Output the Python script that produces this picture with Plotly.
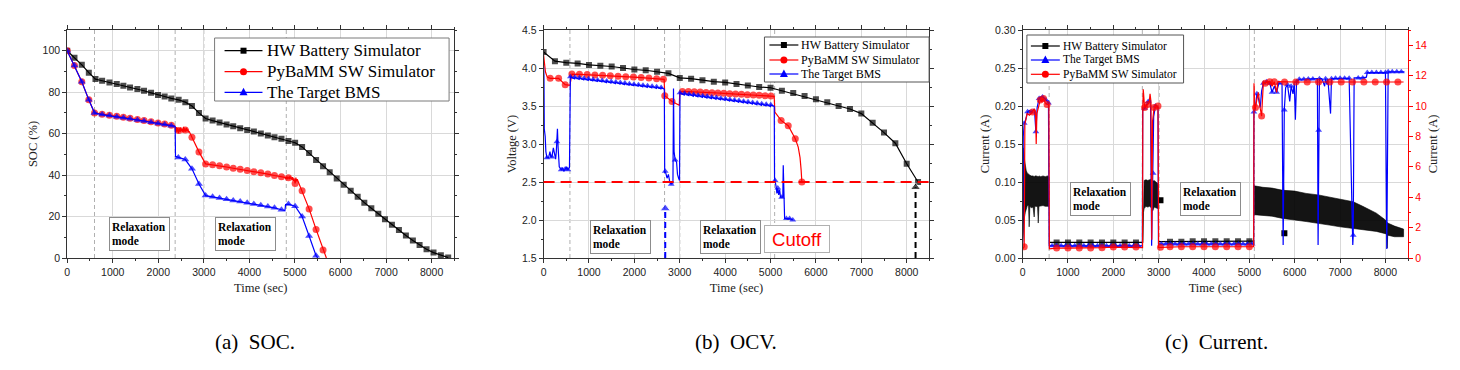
import plotly.graph_objects as go

# ================= DATA =================
# ---- (a) SOC (%) ----
A_HW_T = [0, 160, 321, 475, 621, 767, 928, 1088, 1234, 1380, 1541, 1687, 1841, 1994, 2140,
          2286, 2447, 2593, 2739, 2893, 3039, 3192, 3345, 3499, 3645, 3798, 3952, 4098, 4251, 4405,
          4551, 4704, 4858, 5004, 5157, 5311, 5464, 5617, 5763, 5917, 6070, 6224, 6377, 6523, 6677,
          6830, 6976, 7129, 7283, 7436, 7589, 7736, 7889, 8042, 8203, 8364]
A_HW_SOC = [100, 96.6, 93.2, 89.4, 86.3, 85.5, 84.7, 83.9, 83.1, 82.3, 81.5, 80.7, 79.7, 78.6, 77.9,
            77.0, 76.3, 75.2, 73.3, 70.0, 67.3, 66.3, 65.4, 64.4, 63.6, 62.6, 61.8, 61.0, 60.1, 59.1,
            58.3, 57.5, 56.5, 55.6, 53.6, 50.6, 47.3, 44.3, 41.4, 38.3, 35.4, 32.5, 29.6, 26.7, 24.0,
            21.3, 18.7, 16.1, 13.5, 10.9, 8.5, 6.3, 4.2, 2.6, 1.3, 0.2]

A_PY_T = [0, 160, 321, 475, 600, 767, 928, 1088, 1234, 1380, 1541, 1687, 1841, 1994, 2140,
          2286, 2450, 2593, 2739, 2893, 3039, 3192, 3345, 3499, 3645, 3798, 3952, 4098, 4251, 4405,
          4551, 4704, 4858, 5004, 5157, 5311, 5464, 5617]
A_PY_SOC = [100, 92.9, 85.0, 76.3, 70.0, 69.4, 68.9, 68.4, 67.9, 67.4, 66.8, 66.3, 65.7, 65.1, 64.6,
            64.0, 61.5, 61.8, 58.3, 51.2, 45.4, 45.0, 44.5, 43.9, 43.3, 42.8, 42.2, 41.6, 41.1, 40.5,
            39.8, 39.2, 38.7, 36.0, 32.5, 23.7, 13.8, 3.9]
A_PY_DET_T = [2365, 2380, 2395, 2410, 2425, 2440, 2465, 2480, 2495, 2510, 2525, 2540, 2555, 2570,
              2585, 2605, 2620, 2635, 2650, 2665, 2680,
              4780, 4800, 4815, 4830, 4845, 4875, 4890, 4905, 4920, 4935, 4950, 4965, 4980, 4995,
              5020, 5035, 5050, 5690]
A_PY_DET_SOC = [63.7, 60.5, 63.2, 61.0, 62.8, 60.2, 62.6, 60.8, 63.0, 61.2, 62.2, 60.6, 63.3, 61.0,
                62.5, 60.9, 62.8, 61.3, 62.0, 60.8, 61.0,
                38.9, 38.2, 39.3, 38.0, 39.2, 38.0, 39.5, 38.3, 38.9, 37.6, 39.0, 37.2, 38.4, 36.8,
                38.8, 37.0, 38.0, 0.0]

A_BMS_T = [0, 160, 321, 475, 600, 767, 928, 1088, 1234, 1380, 1541, 1687, 1841, 1994, 2140,
           2286, 2440, 2593, 2739, 2893, 3039, 3192, 3345, 3499, 3645, 3798, 3952, 4098, 4251, 4405,
           4551, 4704, 4858, 5004, 5157, 5311, 5464]
A_BMS_SOC = [100, 92.9, 85.0, 76.3, 70.0, 69.2, 68.7, 68.2, 67.7, 67.2, 66.6, 66.1, 65.5, 64.9, 64.4,
             63.8, 48.5, 47.5, 43.0, 35.7, 30.1, 29.5, 29.0, 28.4, 27.8, 27.2, 26.6, 26.0, 25.4, 24.8,
             24.2, 23.3, 26.0, 25.0, 20.0, 10.6, 1.1]
A_BMS_DET_T = [2370, 2378, 4780, 4795, 5500]
A_BMS_DET_SOC = [63.5, 49.0, 22.9, 25.8, 0.0]

A_RELAX_LINES = [600, 2370, 3000, 4810]

# ---- (b) OCV (V) ----
B_HW_T = [0, 250, 500, 750, 1000, 1250, 1500, 1750, 2000, 2250, 2500, 2750, 3000, 3250, 3500, 3750,
          4000, 4250, 4500, 4750, 5000, 5250, 5500, 5750, 6000, 6250, 6500, 6750, 7000, 7250,
          7500, 7750, 8000, 8250]
B_HW_V = [4.21, 4.09, 4.07, 4.06, 4.04, 4.03, 4.02, 4.00, 3.98, 3.97, 3.95, 3.93, 3.87, 3.86, 3.84,
          3.82, 3.81, 3.79, 3.77, 3.75, 3.74, 3.70, 3.67, 3.63, 3.59, 3.55, 3.50, 3.46, 3.40, 3.28,
          3.15, 3.01, 2.74, 2.50]

B_PY_T = [145, 330, 476, 623, 790, 960, 1130, 1300, 1470, 1640, 1810, 1980, 2150, 2320, 2490, 2640,
          2670, 2830, 3060, 3190, 3320, 3450, 3580, 3710, 3840, 3970, 4100, 4230, 4360, 4490, 4620,
          4750, 4880, 5010, 5233, 5390, 5545, 5690]
B_PY_V = [3.864, 3.864, 3.78, 3.92, 3.917, 3.913, 3.908, 3.903, 3.898, 3.892, 3.886, 3.88, 3.874,
          3.867, 3.86, 3.852, 3.635, 3.56, 3.692, 3.69, 3.687, 3.683, 3.679, 3.675, 3.671, 3.667,
          3.662, 3.658, 3.653, 3.649, 3.644, 3.64, 3.635, 3.63, 3.31, 3.24, 3.07, 2.50]
B_PY_DET_T = [0, 15, 40, 80, 580, 2655, 2990, 3000, 5080, 5095, 5610, 5650, 5675]
B_PY_DET_V = [4.17, 4.05, 3.95, 3.88, 3.772, 3.85, 3.51, 3.68, 3.627, 3.42, 2.96, 2.82, 2.65]

B_BMS_T = [73, 183, 293, 388, 476, 535, 2680, 2811, 2899, 5100, 5160, 5245, 5350, 5420, 5490]
B_BMS_V = [2.82, 2.83, 3.03, 2.66, 2.67, 2.66, 2.64, 2.47, 2.79, 2.52, 2.42, 2.30, 2.02, 2.02, 2.00]
B_BMS_DET_T = [0, 8, 15, 35, 50, 110, 140, 160, 215, 240, 265, 280, 305, 320, 345, 420, 445, 505, 570,
               2660, 2668, 2700, 2720, 2750, 2780, 2830, 2850, 2862, 2875, 2930, 2950, 2975, 2995,
               5088, 5120, 5140, 5180, 5200, 5220, 5270, 5280, 5292, 5310]
B_BMS_DET_V = [4.02, 3.9, 3.2, 3.1, 2.9, 2.82, 2.9, 2.83, 2.95, 2.85, 2.8, 2.9, 3.2, 2.95, 2.7, 2.69,
               2.64, 2.7, 2.69,
               3.72, 2.62, 2.6, 2.55, 2.6, 2.5, 2.5, 2.48, 3.73, 2.9, 2.76, 2.6, 2.55, 2.52,
               2.55, 2.45, 2.35, 2.33, 2.4, 2.3, 2.3, 2.72, 2.3, 2.02]
# sawtooth teeth of the BMS OCV estimate during relaxation
B_SAW1_T = [590, 690, 790, 890, 990, 1090, 1190, 1290, 1390, 1490, 1590, 1690, 1790, 1890, 1990,
            2090, 2190, 2290, 2390, 2490, 2590]
B_SAW1_TOP = [3.885, 3.878, 3.871, 3.864, 3.857, 3.850, 3.843, 3.836, 3.829, 3.822, 3.815, 3.808,
              3.801, 3.794, 3.787, 3.780, 3.773, 3.766, 3.759, 3.752, 3.745]
B_SAW1_LOW = [3.858, 3.851, 3.844, 3.837, 3.830, 3.823, 3.816, 3.809, 3.802, 3.795, 3.788, 3.781,
              3.774, 3.767, 3.760, 3.753, 3.746, 3.739, 3.732, 3.725, 3.722]
B_SAW1_END = 2655
B_SAW2_T = [3005, 3105, 3205, 3305, 3405, 3505, 3605, 3705, 3805, 3905, 4005, 4105, 4205, 4305,
            4405, 4505, 4605, 4705, 4805, 4905, 5005]
B_SAW2_TOP = [3.675, 3.667, 3.659, 3.651, 3.643, 3.635, 3.627, 3.619, 3.611, 3.603, 3.595, 3.587,
              3.579, 3.571, 3.563, 3.555, 3.547, 3.539, 3.531, 3.523, 3.515]
B_SAW2_LOW = [3.645, 3.637, 3.629, 3.621, 3.613, 3.605, 3.597, 3.589, 3.581, 3.573, 3.565, 3.557,
              3.549, 3.541, 3.533, 3.525, 3.517, 3.509, 3.501, 3.493, 3.495]
B_SAW2_END = 5082
B_CUTOFF_V = 2.5
B_ARROW_T = [2680, 8195]
B_ARROW_TOP = [2.15, 2.43]
B_RELAX_LINES = [580, 2665, 3000, 5090]

# ---- (c) Current (A) ----
# HW simulator (left axis) - dense noisy bands given by upper / lower envelopes
C_HW_BAND1_T = [5, 15, 30, 45, 60, 80, 100, 130, 145, 160, 190, 230, 255, 270, 300, 330, 345, 360,
                400, 450, 500, 550, 582]
C_HW_BAND1_UP = [0.06, 0.145, 0.14, 0.128, 0.12, 0.115, 0.112, 0.11, 0.11, 0.109, 0.108, 0.108,
                 0.107, 0.108, 0.108, 0.107, 0.107, 0.108, 0.107, 0.108, 0.107, 0.108, 0.107]
C_HW_BAND1_LO = [0.02, 0.03, 0.05, 0.055, 0.06, 0.065, 0.068, 0.07, 0.041, 0.068, 0.066, 0.067,
                 0.054, 0.068, 0.068, 0.067, 0.046, 0.068, 0.068, 0.069, 0.068, 0.068, 0.068]
C_HW_BAND2_T = [2650, 2665, 2680, 2720, 2760, 2800, 2840, 2870, 2900, 2940, 2980, 3000]
C_HW_BAND2_UP = [0.02, 0.09, 0.102, 0.103, 0.102, 0.103, 0.104, 0.101, 0.102, 0.1, 0.098, 0.09]
C_HW_BAND2_LO = [0.02, 0.06, 0.065, 0.068, 0.067, 0.068, 0.066, 0.062, 0.067, 0.066, 0.065, 0.065]
C_HW_BAND3_T = [5105, 5300, 5500, 5740, 5750, 5760, 6000, 6250, 6520, 6800, 7000, 7290, 7500, 7800,
                8000, 8030, 8040, 8050, 8200, 8400]
C_HW_BAND3_UP = [0.095, 0.093, 0.092, 0.089, 0.104, 0.089, 0.088, 0.085, 0.083, 0.08, 0.078, 0.074,
                 0.068, 0.059, 0.05, 0.048, 0.047, 0.046, 0.042, 0.038]
C_HW_BAND3_LO = [0.057, 0.056, 0.055, 0.052, 0.052, 0.052, 0.05, 0.048, 0.046, 0.043, 0.041, 0.039,
                 0.037, 0.035, 0.032, 0.031, 0.013, 0.03, 0.028, 0.028]
C_HW_R1_T = [750, 1000, 1250, 1500, 1750, 2000, 2250, 2500]
C_HW_R1_I = [0.0205, 0.0205, 0.0205, 0.0205, 0.0205, 0.0205, 0.0205, 0.0205]
C_HW_R1_DET_T = [585, 2645]
C_HW_R1_DET_I = [0.0205, 0.0205]
C_HW_R2_T = [3250, 3500, 3750, 4000, 4250, 4500, 4750, 5000]
C_HW_R2_I = [0.0215, 0.0215, 0.022, 0.022, 0.022, 0.0222, 0.0222, 0.0222]
C_HW_R2_DET_T = [3005, 5102]
C_HW_R2_DET_I = [0.0215, 0.0222]
C_HW_EXTRA_T = [3040, 5772]
C_HW_EXTRA_I = [0.076, 0.0325]

# Target BMS (right axis)
C_BMS_T = [35, 110, 190, 293, 365, 440, 515, 570,
           650, 750, 850, 950, 1050, 1150, 1250, 1350, 1450, 1550, 1650, 1750, 1850, 1950, 2050,
           2150, 2250, 2350, 2450, 2550,
           2690, 2770, 2877, 2930,
           3060, 3160, 3260, 3360, 3460, 3560, 3660, 3760, 3860, 3960, 4060, 4160, 4260, 4360, 4460,
           4560, 4660, 4760, 4860, 4960, 5060,
           5100, 5165, 5310, 5380, 5450, 5500, 5600, 5650, 5770, 5840, 5920, 6040, 6100, 6200, 6300,
           6400, 6528, 6545, 6680, 6810, 6900, 7000, 7100, 7200, 7290, 7400, 7500, 7600, 7700, 7800,
           7900, 8000, 8060, 8150, 8250, 8350]
C_BMS_I = [8.86, 9.62, 9.6, 8.3, 10.5, 10.6, 10.4, 10.2,
           0.8, 0.8, 0.8, 0.8, 0.8, 0.8, 0.8, 0.8, 0.8, 0.8, 0.8, 0.8, 0.8, 0.8, 0.8,
           0.8, 0.8, 0.8, 0.8, 0.8,
           9.85, 10.3, 5.57, 10.0,
           0.92, 0.92, 0.92, 0.92, 0.92, 0.92, 0.92, 0.92, 0.92, 0.92, 0.92, 0.92, 0.92, 0.92, 0.92,
           0.92, 0.92, 0.92, 0.92, 0.92, 0.92,
           9.6, 10.8, 11.5, 11.6, 11.5, 10.9, 10.9, 11.5, 9.74, 11.4, 11.3, 11.6, 11.76, 11.76, 11.78,
           11.78, 8.4, 11.8, 11.8, 11.8, 11.82, 11.82, 11.82, 11.82, 1.5, 11.85, 11.85, 12.2, 12.2,
           12.2, 12.2, 12.2, 12.25, 12.25, 12.25, 12.25]
C_BMS_DET_T = [0, 15, 60, 150, 230, 260, 320, 400, 480, 585, 2640, 2648, 2820, 2845, 2890, 2985,
               2995, 5095, 5130, 5200, 5240, 5270, 5550, 5720, 5745, 5800, 5890, 5963, 5990, 6015,
               6500, 6515, 6600, 6660, 6710, 6730, 6790, 7280, 7310, 7580, 8030, 8420]
C_BMS_DET_I = [0.7, 8.0, 9.0, 9.7, 9.7, 9.8, 9.9, 10.6, 10.5, 0.8, 0.8, 9.7, 10.4, 0.8, 9.3, 9.9,
               0.92, 0.92, 9.8, 10.5, 9.9, 11.0, 11.3, 11.5, 0.85, 11.2, 10.3, 10.8, 11.5, 9.1,
               11.8, 0.85, 11.8, 11.3, 11.4, 11.8, 9.5, 0.85, 11.85, 11.9, 0.6, 12.25]

# PyBaMM SW simulator (right axis)
C_PY_T = [35, 220, 390, 460, 540,
          750, 1000, 1250, 1500, 1750, 2000, 2250, 2500,
          2690, 2760, 2900, 2985,
          3040, 3250, 3500, 3750, 4000, 4250, 4500, 4750, 5000,
          5135, 5270, 5350, 5450, 5550, 5775, 6025, 6275, 6525, 6775, 7025, 7275, 7525, 7775, 8025,
          8275]
C_PY_I = [0.74, 9.6, 10.4, 10.5, 10.1,
          0.65, 0.65, 0.65, 0.65, 0.68, 0.72, 0.72, 0.72,
          9.9, 10.1, 9.9, 10.0,
          0.7, 0.74, 0.74, 0.74, 0.74, 0.74, 0.74, 0.74, 0.74,
          9.9, 9.34, 11.5, 11.6, 11.6, 11.58, 11.58, 11.58, 11.58, 11.58, 11.58, 11.58, 11.58, 11.58,
          11.58, 11.58]
C_PY_DET_T = [0, 50, 100, 150, 260, 285, 300, 315, 420, 500, 580, 590, 2645, 2650, 2660, 2720,
              2790, 2810, 2830, 2848, 2865, 2950, 3000, 5095, 5102, 5120, 5170, 5200, 5230, 5290,
              5310, 5400, 5500, 5600, 5630, 8400]
C_PY_DET_I = [0.6, 8.8, 9.5, 9.4, 9.8, 9.6, 7.5, 9.5, 10.3, 10.2, 10.1, 0.6, 0.68, 9.8, 11.1, 10.0,
              10.2, 10.8, 10.3, 1.2, 9.0, 10.0, 0.7, 0.74, 11.5, 9.8, 10.5, 10.9, 10.0, 10.5,
              11.6, 11.6, 11.3, 10.9, 11.6, 11.58]
C_RELAX_LINES = [585, 2640, 3010, 5110]

# legend entries (label, colour, marker)
NAME_HW, NAME_PY, NAME_BMS = "HW Battery Simulator", "PyBaMM SW Simulator", "The Target BMS"

# ================= STYLE / LAYOUT =================
OFF = 8                      # the page body adds an 8px margin
W, H = 1460 - OFF, 370 - OFF
PLOT_TOP, PLOT_BOT = 30, 258  # pixel rows of the plot box in the target picture
BLACK, RED, BLUE = "#000000", "#ff0000", "#0000ff"
SERIF = "Liberation Serif, Times New Roman, serif"
SANS = "Liberation Sans, Arial, sans-serif"


def fx(p):
    return (p - OFF) / W


def fy(p):
    return (PLOT_BOT - p) / (PLOT_BOT - PLOT_TOP)


DOM_A = [fx(64.3), fx(452.3)]
DOM_B = [fx(541.7), fx(928.3)]
DOM_C = [fx(1021.7), fx(1408.0)]


def merge(mt, mv, dt, dv):
    pts = [(t, 0, v, True) for t, v in zip(mt, mv)] + [(t, 1, v, False) for t, v in zip(dt, dv)]
    pts.sort(key=lambda p: (p[0], p[1]))
    return [p[0] for p in pts], [p[2] for p in pts], [p[3] for p in pts]


def series(mt, mv, dt, dv, color, symbol, msize, xa, ya, lw=1.2):
    xs, ys, fl = merge(mt, mv, dt, dv)
    return go.Scatter(x=xs, y=ys, mode="lines+markers", xaxis=xa, yaxis=ya,
                      line=dict(color=color, width=lw),
                      marker=dict(symbol=symbol, color=color, size=[msize if f else 0 for f in fl],
                                  line=dict(width=0)),
                      showlegend=False, hoverinfo="skip")


def band(t, up, lo, xa, ya):
    return go.Scatter(x=list(t) + list(t)[::-1], y=list(up) + list(lo)[::-1], fill="toself",
                      fillcolor="rgba(0,0,0,0.92)", mode="lines", line=dict(color="black", width=0.6),
                      xaxis=xa, yaxis=ya, showlegend=False, hoverinfo="skip")


def saw(tt, top, low, end):
    det_t = [tt[i + 1] - 6 for i in range(len(tt) - 1)] + [end]
    return tt, top, det_t, low


fig = go.Figure()

# ---- (a) ----
fig.add_trace(series(A_HW_T, A_HW_SOC, [], [], BLACK, "square", 6, "x", "y"))
fig.add_trace(series(A_PY_T, A_PY_SOC, A_PY_DET_T, A_PY_DET_SOC, RED, "circle", 7, "x", "y"))
fig.add_trace(series(A_BMS_T, A_BMS_SOC, A_BMS_DET_T, A_BMS_DET_SOC, BLUE, "triangle-up", 7, "x", "y"))

# ---- (b) ----
fig.add_trace(series(B_HW_T, B_HW_V, [], [], BLACK, "square", 6, "x2", "y2"))
fig.add_trace(series(B_PY_T, B_PY_V, B_PY_DET_T, B_PY_DET_V, RED, "circle", 7, "x2", "y2"))
s1 = saw(B_SAW1_T, B_SAW1_TOP, B_SAW1_LOW, B_SAW1_END)
s2 = saw(B_SAW2_T, B_SAW2_TOP, B_SAW2_LOW, B_SAW2_END)
fig.add_trace(series(B_BMS_T + s1[0] + s2[0], B_BMS_V + s1[1] + s2[1],
                     B_BMS_DET_T + s1[2] + s2[2], B_BMS_DET_V + s1[3] + s2[3],
                     BLUE, "triangle-up", 6, "x2", "y2"))
for t, top, col in zip(B_ARROW_T, B_ARROW_TOP, [BLUE, BLACK]):
    fig.add_trace(go.Scatter(x=[t, t], y=[1.5, top], mode="lines+markers", xaxis="x2", yaxis="y2",
                             line=dict(color=col, width=2, dash="6px,4px"),
                             marker=dict(symbol="triangle-up", size=[0, 9], color=col),
                             showlegend=False, hoverinfo="skip"))

# ---- (c) ----
for t, up, lo in [(C_HW_BAND1_T, C_HW_BAND1_UP, C_HW_BAND1_LO),
                  (C_HW_BAND2_T, C_HW_BAND2_UP, C_HW_BAND2_LO),
                  (C_HW_BAND3_T, C_HW_BAND3_UP, C_HW_BAND3_LO)]:
    fig.add_trace(band(t, up, lo, "x3", "y3"))
fig.add_trace(series(C_HW_R1_T, C_HW_R1_I, C_HW_R1_DET_T, C_HW_R1_DET_I, BLACK, "square", 6, "x3", "y3"))
fig.add_trace(series(C_HW_R2_T, C_HW_R2_I, C_HW_R2_DET_T, C_HW_R2_DET_I, BLACK, "square", 6, "x3", "y3"))
fig.add_trace(go.Scatter(x=C_HW_EXTRA_T, y=C_HW_EXTRA_I, mode="markers", xaxis="x3", yaxis="y3",
                         marker=dict(symbol="square", size=6, color=BLACK), showlegend=False,
                         hoverinfo="skip"))
fig.add_trace(series(C_BMS_T, C_BMS_I, C_BMS_DET_T, C_BMS_DET_I, BLUE, "triangle-up", 6, "x3", "y4"))
fig.add_trace(series(C_PY_T, C_PY_I, C_PY_DET_T, C_PY_DET_I, RED, "circle", 7, "x3", "y4"))

AXC = "#333333"
GRID = "#d9d9d9"
tickfont = dict(family=SANS, size=10.5, color="#222222")
titlefont = dict(family=SERIF, size=12.5, color="#222222")


def xaxis(dom, anchor):
    return dict(domain=dom, anchor=anchor, range=[0, 8500], dtick=1000, showline=True, linecolor=AXC,
                linewidth=1, mirror="ticks", ticks="outside", ticklen=4, tickcolor=AXC,
                showgrid=True, gridcolor=GRID, zeroline=False, tickfont=tickfont,
                minor=dict(ticks="outside", ticklen=2, dtick=500, tickcolor=AXC, showgrid=False),
                title=dict(text="Time (sec)", font=titlefont, standoff=6))


def yaxis(anchor, rng, dtick, minor, title, fmt, mirror="ticks"):
    return dict(domain=[0, 1], anchor=anchor, range=rng, dtick=dtick, showline=True, linecolor=AXC,
                linewidth=1, mirror=mirror, ticks="outside", ticklen=4, tickcolor=AXC,
                showgrid=True, gridcolor=GRID, zeroline=False, tickfont=tickfont, tickformat=fmt,
                minor=dict(ticks="outside", ticklen=2, dtick=minor, tickcolor=AXC, showgrid=False),
                title=dict(text=title, font=titlefont, standoff=2))


shapes = []
for xr, lines in [("x", A_RELAX_LINES), ("x2", B_RELAX_LINES), ("x3", C_RELAX_LINES)]:
    for v in lines:
        shapes.append(dict(type="line", xref=xr, yref=xr.replace("x", "y") + " domain", x0=v, x1=v,
                           y0=0, y1=1, layer="below", line=dict(color="#b0b0b0", width=1, dash="4px,3px")))
shapes.append(dict(type="line", xref="x2 domain", yref="y2", x0=0, x1=1, y0=B_CUTOFF_V, y1=B_CUTOFF_V,
                   line=dict(color=RED, width=2, dash="11px,6px")))

relax_font = dict(family=SERIF, size=11.5, color="black")
annotations = []


def relax_box(xr, yr, x, y):
    annotations.append(dict(text="<b>Relaxation</b><br><b>mode</b>", xref=xr, yref=yr, x=x, y=y,
                            xanchor="left", yanchor="top", showarrow=False, align="left",
                            font=relax_font, bgcolor="white", bordercolor="#8c8c8c", borderwidth=1,
                            borderpad=2, width=55, height=28))


relax_box("x", "y", 913, 19.8)
relax_box("x", "y", 3235, 19.8)
relax_box("x2", "y2", 1018, 2.0)
relax_box("x2", "y2", 3437, 2.0)
relax_box("x3", "y3", 1041, 0.1)
relax_box("x3", "y3", 3461, 0.1)
annotations.append(dict(text="Cutoff", xref="x2", yref="y2", x=4866, y=1.934, xanchor="left",
                        yanchor="top", showarrow=False, font=dict(family=SANS, size=18.5, color=RED),
                        bgcolor="white", bordercolor="#b0b0b0", borderwidth=1, borderpad=1,
                        width=62, height=24))
cap_font = dict(family=SERIF, size=21, color="black")
for txt, xc in [("(a)\u00a0 SOC.", 253), ("(b)\u00a0 OCV.", 734), ("(c)\u00a0 Current.", 1216)]:
    annotations.append(dict(text=txt, xref="paper", yref="paper", x=fx(xc), y=fy(342),
                            xanchor="center", yanchor="middle", showarrow=False, font=cap_font))


# ---- hand-drawn legends (box, sample line, marker, label) ----
def marker_shape(symbol, color, cx, cy, s):
    base = dict(xref="paper", yref="paper", xsizemode="pixel", ysizemode="pixel",
                xanchor=fx(cx), yanchor=fy(cy), fillcolor=color, line=dict(width=0), layer="above")
    h = s / 2.0
    if symbol == "square":
        base.update(type="rect", x0=-h, x1=h, y0=-h, y1=h)
    elif symbol == "circle":
        base.update(type="circle", x0=-h, x1=h, y0=-h, y1=h)
    else:
        base.update(type="path", path="M%.1f,%.1f L%.1f,%.1f L0,%.1f Z" % (-h - 0.5, -h + 0.5, h + 0.5, -h + 0.5, h + 1))
    return base


def draw_legend(box, entries, line_x0, line_x1, text_x, rows, size, border):
    x0, y0, x1, y1 = box
    shapes.append(dict(type="rect", xref="paper", yref="paper", x0=fx(x0), x1=fx(x1), y0=fy(y1),
                       y1=fy(y0), fillcolor="white", line=dict(color=border, width=1), layer="above"))
    for (name, color, symbol, ms), ry in zip(entries, rows):
        shapes.append(dict(type="line", xref="paper", yref="paper", x0=fx(line_x0), x1=fx(line_x1),
                           y0=fy(ry), y1=fy(ry), line=dict(color=color, width=1.2), layer="above"))
        shapes.append(marker_shape(symbol, color, (line_x0 + line_x1) / 2.0, ry, ms))
        annotations.append(dict(text=name, xref="paper", yref="paper", x=fx(text_x), y=fy(ry),
                                xanchor="left", yanchor="middle", showarrow=False, borderpad=0,
                                font=dict(family=SERIF, size=size, color="black")))


E_HW = (NAME_HW, BLACK, "square", 6)
E_PY = (NAME_PY, RED, "circle", 7)
E_BMS = (NAME_BMS, BLUE, "triangle-up", 7)
draw_legend((212, 38, 447, 101), [E_HW, E_PY, E_BMS], 222, 260, 264, [50.7, 71.7, 92.3], 17, "#7a7a7a")
draw_legend((763, 37, 928, 82), [E_HW, E_PY, E_BMS], 768, 797, 798.5, [45, 60, 74], 12, "#555555")
draw_legend((1026, 35, 1183, 83), [E_HW, E_BMS, E_PY], 1030, 1059, 1061, [46, 60, 74.3], 11.5, "#555555")

y4 = dict(domain=[0, 1], anchor="x3", overlaying="y3", side="right", range=[0, 15], dtick=2,
          showline=True, linecolor=RED, linewidth=1, ticks="outside", ticklen=4, tickcolor=RED,
          showgrid=False, zeroline=False, tickfont=dict(family=SANS, size=10.5, color=RED),
          minor=dict(ticks="outside", ticklen=2, dtick=1, tickcolor=RED, showgrid=False),
          title=dict(text="Current (A)", font=titlefont, standoff=2))

fig.update_layout(
    width=W, height=H,
    margin=dict(l=0, r=0, t=PLOT_TOP - OFF, b=H - (PLOT_BOT - OFF)),
    paper_bgcolor="white", plot_bgcolor="white", showlegend=False,
    xaxis=xaxis(DOM_A, "y"), xaxis2=xaxis(DOM_B, "y2"), xaxis3=xaxis(DOM_C, "y3"),
    yaxis=yaxis("x", [0, 110], 20, 10, "SOC (%)", "d"),
    yaxis2=yaxis("x2", [1.5, 4.5], 0.5, 0.25, "Voltage (V)", ".1f"),
    yaxis3=yaxis("x3", [0, 0.30], 0.05, 0.025, "Current (A)", ".2f", mirror=False),
    yaxis4=y4,
    shapes=shapes, annotations=annotations,
)

fig.write_html("out.html")
